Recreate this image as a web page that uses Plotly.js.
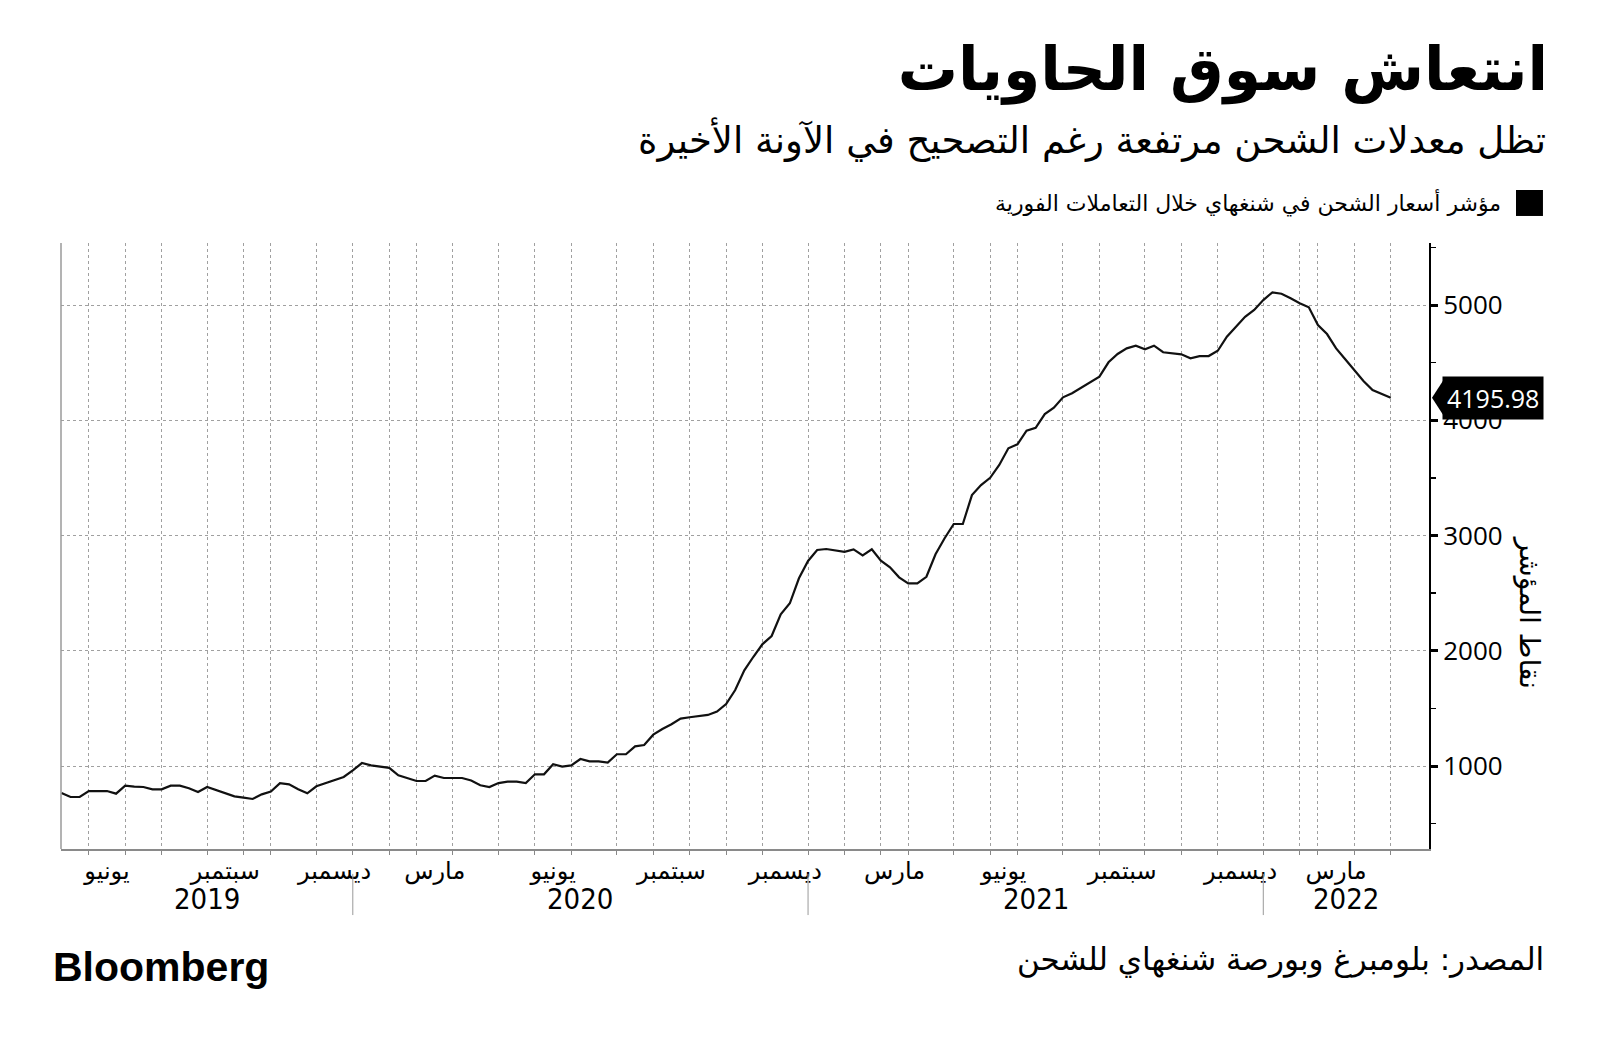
<!DOCTYPE html>
<html>
<head>
<meta charset="utf-8">
<script src="https://cdn.plot.ly/plotly-3.0.1.min.js"></script>
<style>html,body{margin:0;padding:0;background:#fff;}#chart{width:1600px;height:1047px;}</style>
</head>
<body>
<div id="chart"></div>
<script>
// Shanghai Containerized Freight Index, weekly observations (May 2019 – Apr 2022)
const spotIndex = [
  766,731,731,783,783,783,760,830,821,818,
  798,798,830,830,807,774,818,789,766,737,
  726,714,754,778,852,841,798,763,824,852,
  882,905,963,1026,1006,993,984,919,896,870,
  870,917,896,896,896,874,833,818,852,865,
  865,852,928,928,1015,995,1006,1061,1041,1041,
  1030,1102,1102,1171,1182,1272,1321,1362,1411,1423,
  1431,1443,1472,1538,1659,1830,1948,2058,2128,2316,
  2412,2629,2779,2874,2883,2868,2859,2880,2828,2880,
  2781,2724,2637,2585,2585,2642,2837,2976,3100,3100,
  3351,3438,3501,3612,3757,3791,3909,3935,4054,4109,
  4199,4234,4282,4334,4378,4503,4575,4624,4647,4616,
  4647,4590,4581,4572,4538,4557,4557,4603,4725,4812,
  4898,4957,5043,5110,5098,5058,5015,4980,4826,4748,
  4624,4529,4430,4341,4263,4228,4195.98
];
// observation number at which each month begins (Jun 2019 ... May 2022)
const monthStarts = [3,7,11,16,20,23,28,32,36,39,43,48,52,56,61,65,69,73,77,82,86,90,93,98,102,105,110,114,119,123,127,132,136,138,142,146];
// month name labels: month offset from Jun 2019 -> label
const quarterMonths = [0,3,6,9,12,15,18,21,24,27,30,33];
const quarterNames = ['يونيو','سبتمبر','ديسمبر','مارس','يونيو','سبتمبر','ديسمبر','مارس','يونيو','سبتمبر','ديسمبر','مارس'];
const yearNames = ['2019','2020','2021','2022'];
const yearStartMonth = [7,19,31]; // offsets of January in monthStarts
const lastLabel = '4195.98';

const seriesName = 'مؤشر أسعار الشحن في شنغهاي خلال التعاملات الفورية';
const titleText = 'انتعاش سوق الحاويات';
const subtitleText = 'تظل معدلات الشحن مرتفعة رغم التصحيح في الآونة الأخيرة';
const yTitle = 'نقاط المؤشر';
const sourceText = 'المصدر: بلومبرغ وبورصة شنغهاي للشحن';

const xs = spotIndex.map((_, i) => i);
const xMin = -0.05, xMax = 150.2;

const labelPos = quarterMonths.map(k => (monthStarts[k] + monthStarts[k + 1]) / 2);
const yearBounds = [xMin].concat(yearStartMonth.map(k => monthStarts[k])).concat([xMax]);
const yearPos = yearNames.map((_, i) => (yearBounds[i] + yearBounds[i + 1]) / 2);

const AR = 'DejaVu Sans';
const annotations = [];
annotations.push({xref:'paper', yref:'paper', x:1.087, y:1.171, xanchor:'right', yanchor:'middle',
  text: subtitleText, showarrow:false, font:{family:AR, size:37, color:'#000'}});
annotations.push({xref:'paper', yref:'paper', x:1.054, y:1.066, xanchor:'right', yanchor:'middle',
  text: seriesName, showarrow:false, font:{family:AR, size:22, color:'#000'}});
annotations.push({xref:'paper', yref:'paper', x:1.074, y:0.391, xanchor:'center', yanchor:'middle',
  text: yTitle, textangle:90, showarrow:false, font:{family:AR, size:28, color:'#000'}});
annotations.push({xref:'paper', yref:'paper', x:1.0855, y:-0.183, xanchor:'right', yanchor:'middle',
  text: sourceText, showarrow:false, font:{family:AR, size:31, color:'#000'}});
annotations.push({xref:'paper', yref:'paper', x:-0.007, y:-0.195, xanchor:'left', yanchor:'middle',
  text: 'Bloomberg', showarrow:false, font:{family:'Liberation Sans', size:41, color:'#000', weight:'bold'}});
yearNames.forEach((t, i) => annotations.push({xref:'x', yref:'paper', x:yearPos[i], y:-0.0825,
  xanchor:'center', yanchor:'middle', text:t, showarrow:false,
  font:{family:'DejaVu Sans Condensed', size:29, color:'#000'}}));
annotations.push({xref:'paper', yref:'y', x:1.0095, y:spotIndex[spotIndex.length-1], xanchor:'left', yanchor:'middle',
  text: lastLabel, showarrow:false, bgcolor:'#000', borderpad:4,
  font:{family:'Open Sans', size:25, color:'#fff'}});

const shapes = [];
// legend swatch
shapes.push({type:'rect', xref:'paper', yref:'paper', x0:1.0636, x1:1.0833, y0:1.0446, y1:1.0875,
  fillcolor:'#000', line:{width:0}});
// left frame line
shapes.push({type:'line', xref:'paper', yref:'paper', x0:0, x1:0, y0:0, y1:1, line:{color:'#9a9a9a', width:1.5}});
// year separators below the axis
yearStartMonth.forEach(k => shapes.push({type:'line', xref:'x', yref:'paper', x0:monthStarts[k], x1:monthStarts[k],
  y0:-0.041, y1:-0.109, line:{color:'#999', width:1}}));
// pointer of the last-value tag
shapes.push({type:'path', xref:'paper', yref:'y', xsizemode:'pixel', ysizemode:'pixel',
  xanchor:1.0095, yanchor:spotIndex[spotIndex.length-1],
  path:'M -10,0 L 1,-17 L 1,17 Z', fillcolor:'#000', line:{width:0}});

const data = [{
  type:'scatter', mode:'lines', x: xs, y: spotIndex, name: seriesName,
  line:{color:'#111', width:2.2}, hoverinfo:'skip', showlegend:false
}, {
  type:'scatter', mode:'lines', x:[xMin], y:[null], xaxis:'x2', yaxis:'y', showlegend:false, hoverinfo:'skip'
}];

const layout = {
  width:1600, height:1047,
  paper_bgcolor:'#fff', plot_bgcolor:'#fff',
  margin:{l:61, r:171, t:243, b:198},
  showlegend:false,
  title:{text:titleText, xref:'container', yref:'container', x:0.9675, xanchor:'right', y:0.934, yanchor:'middle',
    font:{family:AR, size:60, color:'#000', weight:'bold'}},
  xaxis:{range:[xMin, xMax], tickmode:'array', tickvals:monthStarts, ticktext:monthStarts.map(()=>''),
    showgrid:true, gridcolor:'#a0a0a0', griddash:'dot', gridwidth:1,
    ticks:'outside', ticklen:4, tickcolor:'#888', tickwidth:1,
    showline:true, linecolor:'#8a8a8a', linewidth:2, zeroline:false, fixedrange:true},
  xaxis2:{overlaying:'x', anchor:'y', side:'bottom', range:[xMin, xMax], tickmode:'array',
    tickvals:labelPos, ticktext:quarterNames, showgrid:false, ticks:'', showline:false, zeroline:false,
    tickfont:{family:'DejaVu Sans', size:24, color:'#000'}, ticklabelstandoff:5},
  yaxis:{side:'right', range:[280, 5538], tickmode:'array', tickvals:[1000,2000,3000,4000,5000],
    ticktext:['1000','2000','3000','4000','5000'],
    showgrid:true, gridcolor:'#a0a0a0', griddash:'dot', gridwidth:1,
    showline:true, linecolor:'#000', linewidth:2, ticks:'outside', ticklen:7, tickwidth:3, tickcolor:'#000',
    minor:{tickvals:[500,1500,2500,3500,4500,5500], ticks:'outside', ticklen:5, tickwidth:1.5, tickcolor:'#000', showgrid:false},
    tickfont:{family:'Open Sans', size:26, color:'#000'}, zeroline:false, fixedrange:true},
  annotations: annotations,
  shapes: shapes
};

Plotly.newPlot('chart', data, layout, {displayModeBar:false, staticPlot:true});
</script>
</body>
</html>
